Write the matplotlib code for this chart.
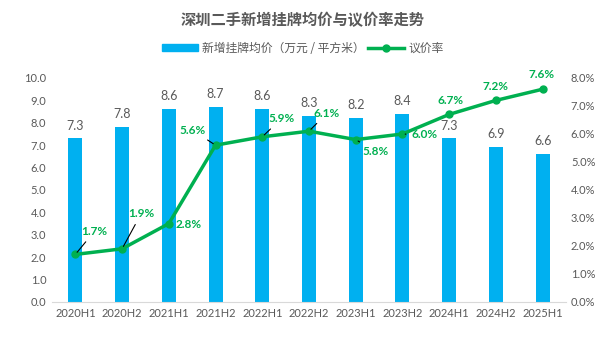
import matplotlib
matplotlib.use("Agg")
import matplotlib.pyplot as plt
from matplotlib.lines import Line2D
from matplotlib.patches import Patch

categories = ["2020H1", "2020H2", "2021H1", "2021H2", "2022H1", "2022H2",
              "2023H1", "2023H2", "2024H1", "2024H2", "2025H1"]
price = [7.3, 7.8, 8.6, 8.7, 8.6, 8.3, 8.2, 8.4, 7.3, 6.9, 6.6]
rate = [1.7, 1.9, 2.8, 5.6, 5.9, 6.1, 5.8, 6.0, 6.7, 7.2, 7.6]
left_ticks = [0, 1, 2, 3, 4, 5, 6, 7, 8, 9, 10]
right_ticks = [0, 1, 2, 3, 4, 5, 6, 7, 8]

# label offsets in pixels (dx, dy) and whether a leader line is drawn
label_off = [(19, 23, True), (19, 35, True), (20, -1, False), (-23, 15, True),
             (19, 18, True), (18, 18, True), (20, -12, True), (22, -1, True),
             (1, 14, False), (0, 14, False), (-1, 15, False)]

plt.rcParams['font.family'] = ['Lato', 'Noto Sans CJK SC', 'DejaVu Sans']
GRAY = "#595959"
BLUE = "#00B0F0"
GREEN = "#00B050"

fig = plt.figure(figsize=(6.06, 3.41), dpi=100)
ax = fig.add_axes([52/606, 1 - 302/341, (566 - 52)/606, (302 - 78)/341])
x = list(range(len(categories)))
bars = ax.bar(x, price, width=0.3, color=BLUE, zorder=2)
for xi, v in zip(x, price):
    ax.annotate(f"{v:.1f}", (xi, v), xytext=(0, 5), textcoords="offset points",
                ha="center", va="bottom", fontsize=9, color=GRAY)
ax.set_xlim(-0.5, len(categories) - 0.5)
ax.set_ylim(0, 10)
ax.set_yticks(left_ticks)
ax.set_yticklabels([f"{t:.1f}" for t in left_ticks])
ax.set_xticks(x)
ax.set_xticklabels(categories)
for s in ["top", "right", "left"]:
    ax.spines[s].set_visible(False)
ax.spines["bottom"].set_color("#D9D9D9")
ax.tick_params(axis="both", length=0, colors=GRAY, labelsize=8)
ax.tick_params(axis="y", pad=4)
ax.tick_params(axis="x", pad=4)

ax2 = ax.twinx()
ax2.plot(x, rate, color=GREEN, lw=2.5, marker="o", ms=5, zorder=3)
ax2.set_ylim(0, 8)
ax2.set_yticks(right_ticks)
ax2.set_yticklabels([f"{t:.1f}%" for t in right_ticks])
for s in ["top", "right", "left", "bottom"]:
    ax2.spines[s].set_visible(False)
ax2.tick_params(axis="both", length=0, colors=GRAY, labelsize=8)

for xi, v, (dx, dy, lead) in zip(x, rate, label_off):
    kw = {}
    if lead:
        kw["arrowprops"] = dict(arrowstyle="-", color="black", lw=0.8,
                                shrinkA=2, shrinkB=2)
    ax2.annotate(f"{v:.1f}%", (xi, v), xytext=(dx * 0.72, dy * 0.72),
                 textcoords="offset points", ha="center", va="center",
                 fontsize=8.5, fontweight="bold", color=GREEN, **kw)

fig.text(0.5, 1 - 20/341, "深圳二手新增挂牌均价与议价率走势", ha="center", va="center",
         fontsize=11, fontweight="bold", color=GRAY,
         family=["Noto Sans CJK SC", "DejaVu Sans"])

handles = [Patch(color=BLUE), Line2D([0], [0], color=GREEN, lw=2.5, marker="o", ms=5)]
labels = ["新增挂牌均价（万元 / 平方米）", "议价率"]
fig.legend(handles, labels, loc="center", bbox_to_anchor=(0.5, 1 - 48/341), ncol=2,
           frameon=False, fontsize=8.5, labelcolor=GRAY, handlelength=3.0,
           handleheight=0.5, columnspacing=0.3, handletextpad=0.4,
           prop={"family": ["Noto Sans CJK SC", "DejaVu Sans"], "size": 8.5})

fig.savefig("out.png", dpi=100, facecolor="white")
